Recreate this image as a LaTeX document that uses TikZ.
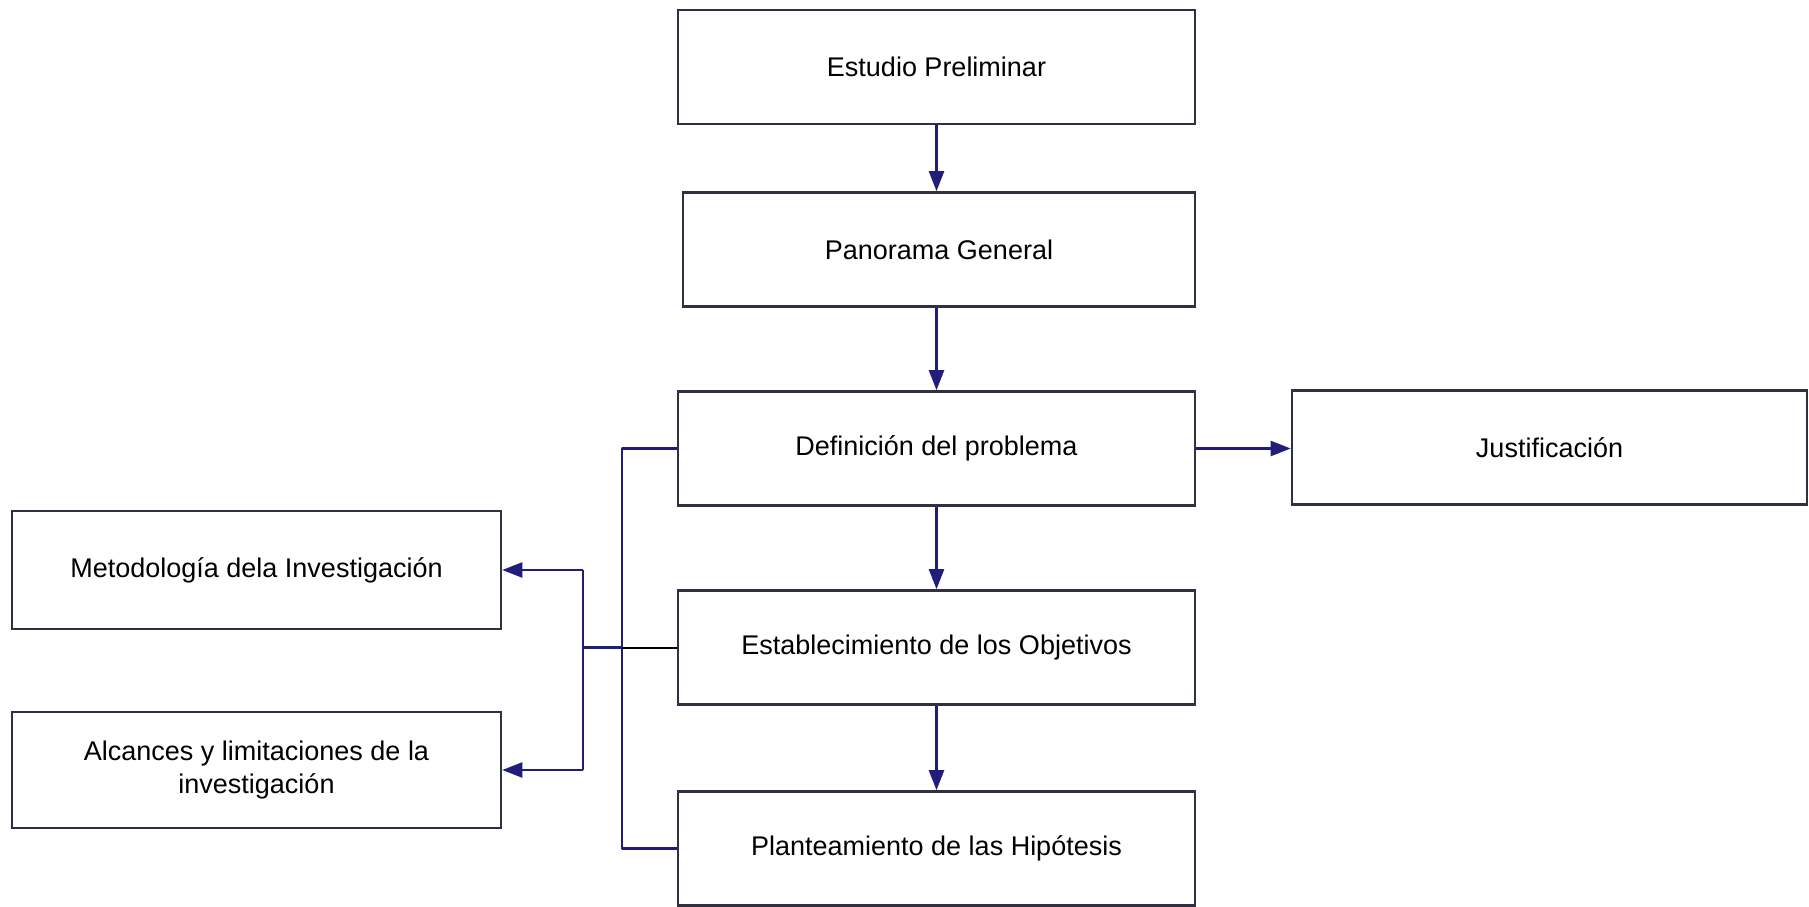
\documentclass[tikz,border=0pt]{standalone}
\usepackage{fontspec}
\setmainfont{Liberation Sans}
\usetikzlibrary{arrows.meta}
\definecolor{navy}{RGB}{32,30,122}
\definecolor{boxline}{RGB}{48,48,66}
\tikzset{
  stepbox/.style={draw=boxline, line width=2.6pt, fill=white, rectangle,
    minimum width=517pt, minimum height=114pt, inner sep=0pt,
    align=center, font=\fontsize{27}{33}\selectfont},
  flow/.style={draw=navy, line width=2.4pt,
    -{Triangle[length=20pt,width=15pt]}},
  link/.style={draw=navy, line width=2.4pt}
}
\begin{document}
\begin{tikzpicture}[x=1pt,y=-1pt]
  \useasboundingbox[fill=white] (0,0) rectangle (1809,907);

  % main column
  \node[stepbox] (est) at (936.5,67)  {Estudio Preliminar};
  \node[stepbox, minimum width=512pt] (pan) at (939,249.5) {Panorama General};
  \node[stepbox] (def) at (936.5,448.5) {Definición del problema};
  \node[stepbox] (obj) at (936.5,647.5) {Establecimiento de los Objetivos};
  \node[stepbox] (hip) at (936.5,848.5) {Planteamiento de las Hipótesis};

  % side boxes
  \node[stepbox, minimum width=515pt] (jus) at (1549.5,447.5) {Justificación};
  \node[stepbox, minimum width=489pt, minimum height=118pt] (met) at (256.5,570) {Metodología dela Investigación};
  \node[stepbox, minimum width=489pt, minimum height=116pt] (alc) at (256.5,770) {Alcances y limitaciones de la\\investigación};

  % junction points
  \coordinate (bx) at (622,0);
  \coordinate (sx) at (583,0);

  % vertical flow
  \draw[flow] (est.south) -- (est.south |- pan.north);
  \draw[flow] (est.south |- pan.south) -- (est.south |- def.north);
  \draw[flow] (def.south) -- (obj.north);
  \draw[flow] (obj.south) -- (hip.north);
  \draw[flow] (def.east) -- (def.east -| jus.west);

  % bracket joining problem definition and hypotheses
  \draw[link, line join=round] (def.west) -- (def.west -| bx) -- (hip.west -| bx) -- (hip.west);

  % objectives feeding methodology and scope
  \draw[line width=2pt, black] (obj.west) -- (obj.west -| bx);
  \draw[link] (obj.west -| bx) -- (obj.west -| sx);
  \draw[link] (met.east -| sx) -- (alc.east -| sx);
  \draw[flow] (met.east -| sx) -- (met.east);
  \draw[flow] (alc.east -| sx) -- (alc.east);
\end{tikzpicture}
\end{document}
